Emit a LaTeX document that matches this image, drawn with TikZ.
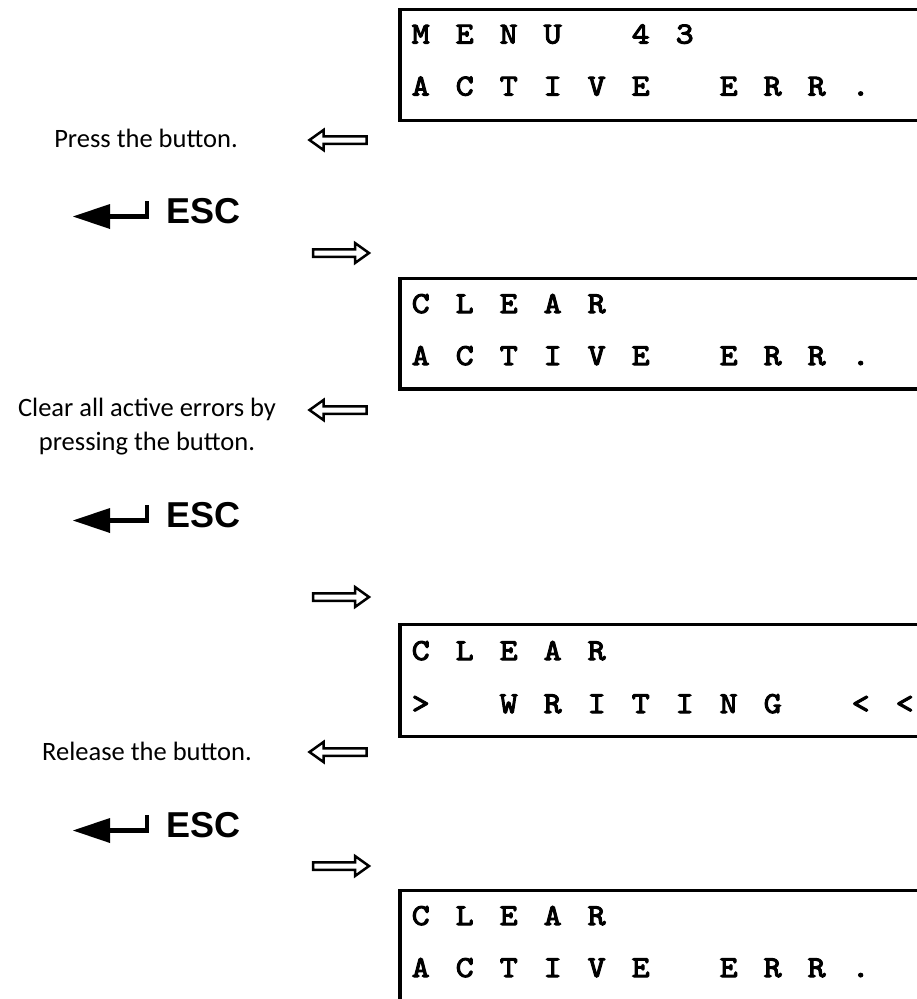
\documentclass[tikz,border=0pt]{standalone}
\usepackage{fontspec}
\newfontfamily\txtfont{Carlito}
\newfontfamily\escfont{Liberation Sans}
\newfontfamily\lcdfont{lmmono10-regular.otf}[FakeBold=3.4,FakeStretch=1.12]
\makeatletter
\newcommand\lcd[1]{\lcd@loop#1\relax}
\def\lcd@loop#1{\ifx\relax#1\else\makebox[44pt][c]{#1}\expandafter\lcd@loop\fi}
\makeatother
\begin{document}
\begin{tikzpicture}[x=1pt,y=-1pt,
  lcdbox/.style={draw=black,line width=3.5pt,line join=miter},
  lcdtext/.style={inner sep=0pt,anchor=base west,font=\fontsize{30.5}{30}\selectfont\lcdfont},
  note/.style={inner sep=0pt,anchor=base,align=center,font=\fontsize{26.5}{34}\selectfont\txtfont},
  esc/.style={inner sep=0pt,anchor=base west,font=\fontsize{36}{36}\selectfont\escfont\bfseries},
  hollow/.style={draw=black,line width=2.5pt,line join=miter,miter limit=3,fill=white},
  retline/.style={draw=black,line width=4.8pt,line join=miter},
  hollowL/.pic={\path[hollow] (0,0) -- (14,-10) -- (14,-3.75) -- (57,-3.75) -- (57,3.75) -- (14,3.75) -- (14,10) -- cycle;},
  hollowR/.pic={\path[hollow] (0,0) -- (-14,-10) -- (-14,-3.75) -- (-56,-3.75) -- (-56,3.75) -- (-14,3.75) -- (-14,10) -- cycle;},
  escpic/.pic={\fill[black] (-94,-6.5) -- (-57,-19) -- (-57,6) -- cycle;
    \path[retline] (-58,-6.5) -- (-20,-6.5) -- (-20,-22);
    \node[esc] (escT) at (-1,0) {ESC};}
]
\useasboundingbox (0,0) rectangle (917,999);

% display boxes
\draw[lcdbox] (930,9.5) -- (400,9.5) -- (400,120.5) -- (930,120.5);
\draw[lcdbox] (930,278.5) -- (400,278.5) -- (400,389) -- (930,389);
\draw[lcdbox] (930,624.5) -- (400,624.5) -- (400,736.5) -- (930,736.5);
\draw[lcdbox] (930,890.5) -- (400,890.5) -- (400,1010);

% display texts
\node[lcdtext] (d1a) at (398.5,43.5) {\lcd{MENU~43}};
\node[lcdtext] (d1b) at (398.5,95.5) {\lcd{ACTIVE~ERR.}};
\node[lcdtext] (d2a) at (398.5,313) {\lcd{CLEAR}};
\node[lcdtext] (d2b) at (398.5,365) {\lcd{ACTIVE~ERR.}};
\node[lcdtext] (d3a) at (398.5,660) {\lcd{CLEAR}};
\node[lcdtext] (d3b) at (398.5,713) {\lcd{>~WRITING~<<}};
\node[lcdtext] (d4a) at (398.5,925) {\lcd{CLEAR}};
\node[lcdtext] (d4b) at (398.5,977) {\lcd{ACTIVE~ERR.}};

% instructions
\node[note] (n1) at (146,147) {Press the button.};
\node[note,anchor=north] (n2) at (147,398) {Clear all active errors by\\pressing the button.};
\node[note] (n3) at (147,760) {Release the button.};

% ESC keys
\pic (e1) at (167,223) {escpic};
\pic (e2) at (167,527) {escpic};
\pic (e3) at (167,837) {escpic};

% hollow arrows
\pic (l1) at (309.5,140) {hollowL};
\pic (r1) at (369,253) {hollowR};
\pic (l2) at (309.5,410) {hollowL};
\pic (r2) at (369,597) {hollowR};
\pic (l3) at (309.5,752) {hollowL};
\pic (r3) at (369,866) {hollowR};
\end{tikzpicture}
\end{document}
